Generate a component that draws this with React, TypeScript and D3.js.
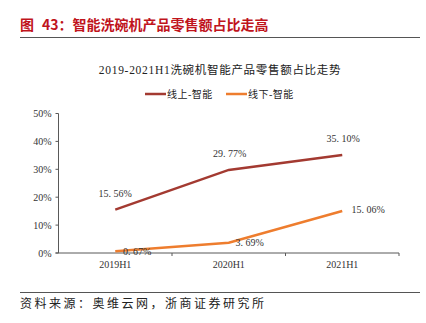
import React from "react";
import * as d3 from "d3";

const categories = ["2019H1", "2020H1", "2021H1"];
const online = [15.56, 29.77, 35.1];
const offline = [0.67, 3.69, 15.06];
const yTicks = [0, 10, 20, 30, 40, 50];
const seriesNames = ["线上-智能", "线下-智能"];
const colors = ["#A33A31", "#EE7D2E"];

const W = 426, H = 323;
const left = 58.5, right = 399, top = 113.5, bottom = 253;

export default function App() {
  const x = d3.scaleBand<string>().domain(categories).range([left, right]);
  const y = d3.scaleLinear().domain([0, 50]).range([bottom, top]);
  const cx = (c: string) => (x(c) ?? 0) + x.bandwidth() / 2;
  const line = d3.line<number>().x((_, i) => cx(categories[i])).y((v) => y(v));
  const serif = "'Liberation Serif', 'Noto Sans CJK SC', serif";
  const axisColor = "#595959";
  const fmt = (v: number) => v.toFixed(2).replace(".", ". ") + "%";

  const onlineLabel = [[0, -13], [1, -13], [1, -13]];
  const offlineLabel = [[22, 4], [21, 3], [26, 2]];
  const legendX = [145, 226];

  return (
    <svg width={W} height={H} style={{ position: "absolute", left: 0, top: 0, background: "#fff" }}>
      <text y={30} fill="#C0141C" fontSize={14} fontWeight="bold" fontFamily="'Noto Sans CJK SC', sans-serif">
        <tspan x={20}>图</tspan>
        <tspan x={42}>43：智能洗碗机产品零售额占比走高</tspan>
      </text>
      <line x1={20} x2={420} y1={37.5} y2={37.5} stroke="#555" strokeWidth={1} />

      <text x={220} y={74} textAnchor="middle" fontSize={11.5} letterSpacing={0.7} fontFamily={serif} fill="#222">
        2019-2021H1洗碗机智能产品零售额占比走势
      </text>

      {seriesNames.map((n, i) => {
        const lx = legendX[i];
        return (
          <g key={n}>
            <line x1={lx} x2={lx + 21} y1={94} y2={94} stroke={colors[i]} strokeWidth={2.5} />
            <text x={lx + 22} y={98} fontSize={10} letterSpacing={0.5} fontFamily={serif} fill="#222">{n}</text>
          </g>
        );
      })}

      <line x1={left} x2={left} y1={top} y2={bottom} stroke={axisColor} />
      {yTicks.map((t) => (
        <g key={t}>
          <line x1={left - 3} x2={left} y1={y(t)} y2={y(t)} stroke={axisColor} />
          <text x={left - 7} y={y(t) + 3.5} textAnchor="end" fontSize={10} fontFamily={serif} fill="#333">
            {t}%
          </text>
        </g>
      ))}
      <line x1={left - 3} x2={right} y1={bottom} y2={bottom} stroke={axisColor} />
      {categories.map((c) => (
        <g key={c}>
          <line x1={(x(c) ?? 0) + x.bandwidth()} x2={(x(c) ?? 0) + x.bandwidth()} y1={bottom} y2={bottom + 3} stroke={axisColor} />
          <text x={cx(c)} y={bottom + 15} textAnchor="middle" fontSize={10} fontFamily={serif} fill="#333">
            {c}
          </text>
        </g>
      ))}

      <path d={line(online) ?? ""} fill="none" stroke={colors[0]} strokeWidth={2.5} />
      <path d={line(offline) ?? ""} fill="none" stroke={colors[1]} strokeWidth={2.5} />

      {online.map((v, i) => (
        <text key={"on" + i} x={cx(categories[i]) + onlineLabel[i][0]} y={y(v) + onlineLabel[i][1]} textAnchor="middle" fontSize={10} fontFamily={serif} fill="#333">
          {fmt(v)}
        </text>
      ))}
      {offline.map((v, i) => (
        <text key={"off" + i} x={cx(categories[i]) + offlineLabel[i][0]} y={y(v) + offlineLabel[i][1]} textAnchor="middle" fontSize={10} fontFamily={serif} fill="#333">
          {fmt(v)}
        </text>
      ))}

      <line x1={20} x2={420} y1={292.5} y2={292.5} stroke="#555" strokeWidth={1} />
      <text x={20} y={308} fontSize={12} letterSpacing={2.5} fontFamily="'Noto Sans CJK SC', serif" fill="#222">
        资料来源：奥维云网，浙商证券研究所
      </text>
    </svg>
  );
}
